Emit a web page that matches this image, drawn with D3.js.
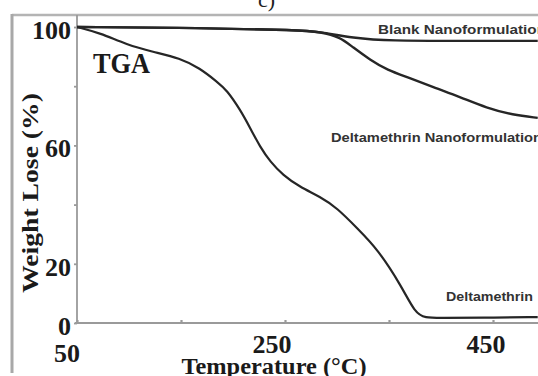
<!DOCTYPE html>
<html>
<head>
<meta charset="utf-8">
<script src="https://cdn.jsdelivr.net/npm/d3@7"></script>
<style>
  body { margin: 0; background: #fff; }
  svg { display: block; }
</style>
</head>
<body>
<div id="tga-chart"></div>
<script>
// temperature (°C) / weight (%)
const deltamethrinTemp = [50, 72, 98, 123, 149, 168, 185, 194, 207, 216, 226, 236, 248, 264, 284, 300, 320, 339, 362, 375, 385, 399, 440, 493];
const deltamethrinWeight = [100, 98, 94, 91.6, 89.5, 86.1, 81.4, 78.7, 72, 66.2, 59.5, 54.4, 50, 46, 42.6, 38.9, 31.8, 25, 12.5, 3.4, 1.7, 1.7, 1.8, 2];

const nanoTemp = [50, 168, 264, 284, 303, 315, 332, 348, 370, 392, 418, 444, 469, 493];
const nanoWeight = [100, 99.7, 99, 98.3, 96.6, 93.2, 88.9, 85.5, 82.8, 79.7, 76.4, 72.6, 70.3, 69.3];

const blankTemp = [50, 168, 264, 284, 315, 351, 418, 493];
const blankWeight = [100, 99.7, 99, 98.3, 96.3, 95.3, 95.3, 95.3];

const xTicks = [50, 150, 250, 350, 450];
const xTickLabels = ["50", "", "250", "", "450"];
const yTicks = [0, 20, 40, 60, 80, 100];
const yTickLabels = ["0", "20", "", "60", "", "100"];

const width = 538, height = 376;
const svg = d3.select("#tga-chart").append("svg")
  .attr("width", width)
  .attr("height", height);

const x = d3.scaleLinear().domain([50, 450]).range([77, 493]);
const y = d3.scaleLinear().domain([0, 100]).range([323, 27]);

svg.append("clipPath").attr("id", "plot-clip")
  .append("rect").attr("x", 77).attr("y", 16).attr("width", width - 77).attr("height", 310);

// frame around the panel
svg.append("line").attr("x1", 12).attr("x2", width).attr("y1", 15).attr("y2", 15)
  .attr("stroke", "#b4b4b4").attr("stroke-width", 2.5);
svg.append("line").attr("x1", 12).attr("x2", 12).attr("y1", 14).attr("y2", 373)
  .attr("stroke", "#a8a8a8").attr("stroke-width", 3);

// axes
const serif = "'Liberation Serif', 'Times New Roman', serif";
const sans = "'Liberation Sans', Arial, sans-serif";

svg.append("g")
  .attr("transform", "translate(77,0)")
  .call(d3.axisLeft(y).tickValues(yTicks).tickSize(3).tickFormat(""))
  .call(g => g.select(".domain").attr("d", "M0,15V324"))
  .call(g => g.selectAll("path, line").attr("stroke", "#9a9a9a").attr("stroke-width", 1.8));

svg.append("g")
  .attr("transform", "translate(0,323)")
  .call(d3.axisTop(x).tickValues(xTicks).tickSize(3).tickFormat(""))
  .call(g => g.select(".domain").attr("d", `M75,0H${width}`))
  .call(g => g.selectAll("path, line").attr("stroke", "#9a9a9a").attr("stroke-width", 2.2));

// tick labels (scan has slightly uneven placement)
const xLabelShift = { 50: [-10, 9], 250: [-13, 0], 450: [-7, 0] };
svg.append("g").selectAll("text")
  .data(xTicks.map((t, i) => ({ t, label: xTickLabels[i] })).filter(d => d.label))
  .join("text")
  .attr("x", d => x(d.t) + xLabelShift[d.t][0])
  .attr("y", d => 353 + xLabelShift[d.t][1])
  .attr("text-anchor", "middle")
  .attr("font-family", serif).attr("font-weight", "bold").attr("font-size", 26)
  .attr("fill", "#1a1a1a")
  .text(d => d.label);

svg.append("g").selectAll("text")
  .data(yTicks.map((t, i) => ({ t, label: yTickLabels[i] })).filter(d => d.label))
  .join("text")
  .attr("x", 71)
  .attr("y", d => y(d.t) + 12)
  .attr("text-anchor", "end")
  .attr("font-family", serif).attr("font-weight", "bold").attr("font-size", 26)
  .attr("fill", "#1a1a1a")
  .text(d => d.label);

// curves
const line = d3.line()
  .x(d => x(d[0]))
  .y(d => y(d[1]))
  .curve(d3.curveBasis);

const series = [
  { temp: blankTemp, weight: blankWeight, width: 2.4 },
  { temp: nanoTemp, weight: nanoWeight, width: 2.4 },
  { temp: deltamethrinTemp, weight: deltamethrinWeight, width: 2.2 }
];

svg.append("g").attr("clip-path", "url(#plot-clip)")
  .selectAll("path")
  .data(series)
  .join("path")
  .attr("d", s => line(s.temp.map((t, i) => [t, s.weight[i]])))
  .attr("fill", "none")
  .attr("stroke", "#262626")
  .attr("stroke-width", s => s.width)
  .attr("stroke-linejoin", "round");

// curve labels
svg.append("text").attr("x", 378).attr("y", 34)
  .attr("font-family", sans).attr("font-weight", "bold").attr("font-size", 12.5)
  .attr("textLength", 168).attr("lengthAdjust", "spacingAndGlyphs")
  .attr("fill", "#333").text("Blank Nanoformulation");
svg.append("text").attr("x", 331).attr("y", 142)
  .attr("font-family", sans).attr("font-weight", "bold").attr("font-size", 12.5)
  .attr("textLength", 211).attr("lengthAdjust", "spacingAndGlyphs")
  .attr("fill", "#333").text("Deltamethrin  Nanoformulation");
svg.append("text").attr("x", 446).attr("y", 301)
  .attr("font-family", sans).attr("font-weight", "bold").attr("font-size", 12.5)
  .attr("textLength", 87).attr("lengthAdjust", "spacingAndGlyphs")
  .attr("fill", "#333").text("Deltamethrin");

svg.append("text").attr("x", 93).attr("y", 73)
  .attr("font-family", serif).attr("font-weight", "bold").attr("font-size", 30)
  .attr("textLength", 57).attr("lengthAdjust", "spacingAndGlyphs")
  .attr("fill", "#1a1a1a").text("TGA");

// axis titles
svg.append("text")
  .attr("transform", "translate(38,193) rotate(-90)")
  .attr("text-anchor", "middle")
  .attr("font-family", serif).attr("font-weight", "bold").attr("font-size", 23)
  .attr("textLength", 200).attr("lengthAdjust", "spacingAndGlyphs")
  .attr("fill", "#1a1a1a").text("Weight Lose (%)");

svg.append("text").attr("x", 274).attr("y", 374)
  .attr("text-anchor", "middle")
  .attr("font-family", serif).attr("font-weight", "bold").attr("font-size", 24)
  .attr("textLength", 185).attr("lengthAdjust", "spacingAndGlyphs")
  .attr("fill", "#1a1a1a").text("Temperature (°C)");

svg.append("text").attr("x", 258).attr("y", 7)
  .attr("font-family", serif).attr("font-size", 22)
  .attr("fill", "#222").text("c)");
</script>
</body>
</html>
